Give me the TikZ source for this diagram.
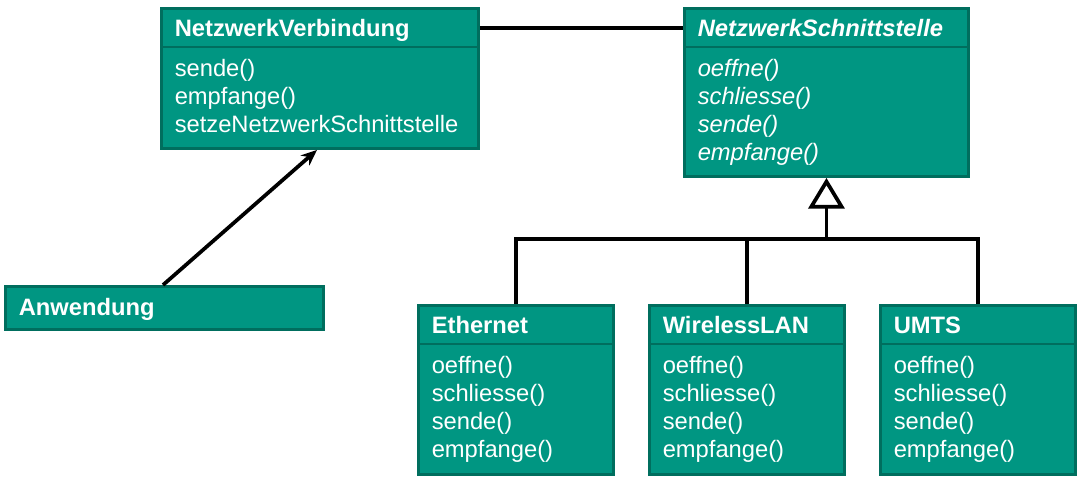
\documentclass[tikz,border=0pt]{standalone}
\usepackage{fontspec}
\setmainfont{Liberation Sans}
\usepackage{xcolor}
\usetikzlibrary{arrows.meta, positioning}

\definecolor{clsfill}{RGB}{0,150,130}
\definecolor{clsline}{RGB}{0,110,94}

\begin{document}
\begin{tikzpicture}[x=0.75pt, y=-0.75pt,
    cls/.style 2 args={draw=clsline, fill=clsfill, line width=2.2pt, inner sep=0pt,
        anchor=north west, minimum width=#1*0.75pt, minimum height=#2*0.75pt},
    divline/.style={draw=clsline, line width=2.2pt},
    clsname/.style={anchor=base west, inner sep=0pt, text=white,
        font=\fontsize{17.8}{21}\selectfont\bfseries},
    meth/.style={anchor=base west, inner sep=0pt, text=white,
        font=\fontsize{17.8}{21}\selectfont},
    conn/.style={line width=2.8pt, black}]
    \useasboundingbox (0,0) rectangle (1081,478);

    % Verbindung und Anwendung
    \node[cls={317}{140}] (nv) at (160,7) {};
    \draw[divline] ([yshift=-30pt]nv.north west) -- ([yshift=-30pt]nv.north east);
    \node[clsname] (nv-name) at ([shift={(14.5,29.5)}]nv.north west) {NetzwerkVerbindung};
    \foreach \m [count=\i] in {sende(), empfange(), setzeNetzwerkSchnittstelle}
        \node[meth] (nv-m\i) at ([shift={(14.5,41.5+28*\i)}]nv.north west) {\m};

    \node[cls={318}{43}] (anw) at (4,285) {};
    \node[clsname] (anw-name) at ([shift={(14.5,30)}]anw.north west) {Anwendung};

    % abstrakte Schnittstelle
    \node[cls={284}{168}] (ns) at (683,7) {};
    \draw[divline] ([yshift=-30pt]ns.north west) -- ([yshift=-30pt]ns.north east);
    \node[clsname, font=\fontsize{17.8}{21}\selectfont\bfseries\itshape] (ns-name)
        at ([shift={(14.5,29.5)}]ns.north west) {NetzwerkSchnittstelle};
    \foreach \m [count=\i] in {oeffne(), schliesse(), sende(), empfange()}
        \node[meth, font=\fontsize{17.8}{21}\selectfont\itshape] (ns-m\i)
            at ([shift={(14.5,41.5+28*\i)}]ns.north west) {\m};

    % konkrete Schnittstellen
    \foreach \n/\x/\t in {eth/417/Ethernet, wlan/648/WirelessLAN, umts/879/UMTS} {
        \node[cls={195}{169}] (\n) at (\x,304) {};
        \draw[divline] ([yshift=-30pt]\n.north west) -- ([yshift=-30pt]\n.north east);
        \node[clsname] (\n-name) at ([shift={(14.5,29.5)}]\n.north west) {\t};
        \foreach \m [count=\i] in {oeffne(), schliesse(), sende(), empfange()}
            \node[meth] (\n-m\i) at ([shift={(14.5,41.5+28*\i)}]\n.north west) {\m};
    }

    % Verbindungen
    \coordinate (link) at ([yshift=-15.75pt]nv.north east);
    \draw[conn] (link) -- (link -| ns.west);
    \draw[conn, -{Stealth[length=12pt, width=10pt]}]
        ([xshift=119.25pt]anw.north west) -- ([xshift=117.75pt]nv.south west);

    \coordinate (bus) at (0,239);
    \draw[conn] (eth.north) -- (eth.north |- bus) -- (umts.north |- bus) -- (umts.north);
    \draw[conn] (wlan.north) -- (wlan.north |- bus);
    \draw[conn, -{Triangle[open, length=23pt, width=27pt, fill=white]}]
        (ns.south |- bus) -- (ns.south);
\end{tikzpicture}
\end{document}
